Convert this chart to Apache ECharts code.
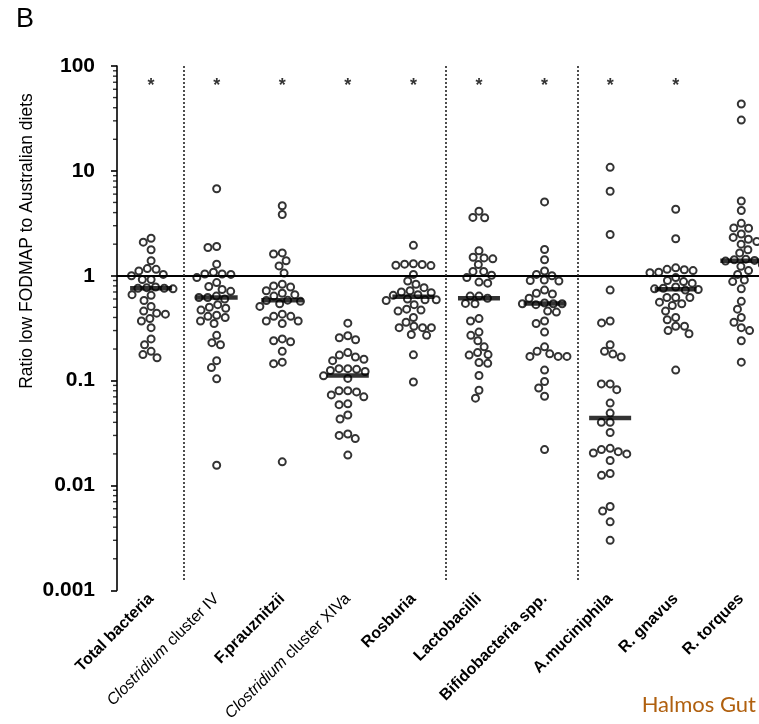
<!DOCTYPE html>
<html>
<head>
<meta charset="utf-8">
<script src="https://cdn.jsdelivr.net/npm/echarts@6/dist/echarts.min.js"></script>
<style>
  html, body { margin: 0; padding: 0; background: #fff; }
  #chart { width: 759px; height: 724px; }
</style>
</head>
<body>
<div id="chart"></div>
<script>
// ---------- data ----------
const categories = [
  'Total bacteria', 'Clostridium cluster IV', 'F.prauznitzii', 'Clostridium cluster XIVa',
  'Rosburia', 'Lactobacilli', 'Bifidobacteria spp.', 'A.muciniphila', 'R. gnavus', 'R. torques'
];
const totalBacteria = [2.28,2.09,1.77,1.39,1.17,1.15,1.11,1.03,1.0,0.92,0.92,0.78,0.77,0.76,0.76,0.75,0.66,0.65,0.58,0.51,0.46,0.44,0.43,0.39,0.37,0.32,0.25,0.22,0.19,0.177,0.165];
const clostridiumIV = [6.76,1.90,1.86,1.29,1.08,1.04,1.04,1.03,0.96,0.86,0.79,0.74,0.71,0.64,0.62,0.62,0.60,0.53,0.50,0.49,0.47,0.42,0.41,0.40,0.37,0.35,0.27,0.23,0.22,0.155,0.133,0.104,0.0156];
const fPrausnitzii = [4.65,3.84,1.65,1.61,1.39,1.24,1.06,0.83,0.80,0.78,0.72,0.68,0.66,0.64,0.585,0.58,0.57,0.54,0.51,0.43,0.41,0.41,0.37,0.37,0.35,0.25,0.24,0.235,0.19,0.15,0.145,0.0168];
const clostridiumXIVa = [0.353,0.268,0.256,0.245,0.185,0.175,0.168,0.16,0.155,0.13,0.13,0.128,0.125,0.122,0.111,0.105,0.08,0.08,0.078,0.073,0.07,0.06,0.059,0.047,0.043,0.031,0.03,0.028,0.0195];
const rosburia = [1.95,1.30,1.29,1.28,1.26,1.25,1.03,0.89,0.83,0.77,0.72,0.70,0.69,0.66,0.65,0.60,0.59,0.59,0.58,0.53,0.48,0.47,0.46,0.40,0.36,0.33,0.32,0.32,0.32,0.275,0.27,0.176,0.097];
const lactobacilli = [4.13,3.6,3.57,1.73,1.5,1.48,1.45,1.28,1.1,1.1,1.01,0.96,0.87,0.85,0.64,0.64,0.61,0.545,0.54,0.39,0.37,0.29,0.27,0.24,0.21,0.185,0.177,0.175,0.149,0.146,0.112,0.081,0.068];
const bifidobacteria = [5.06,1.78,1.42,1.11,1.03,1.0,0.91,0.90,0.89,0.73,0.68,0.67,0.61,0.55,0.54,0.54,0.54,0.53,0.46,0.45,0.37,0.35,0.29,0.21,0.19,0.18,0.17,0.17,0.17,0.126,0.098,0.085,0.071,0.022];
const aMuciniphila = [10.8,6.39,2.47,0.73,0.37,0.355,0.22,0.19,0.179,0.168,0.093,0.093,0.082,0.061,0.049,0.04,0.04,0.032,0.0226,0.022,0.021,0.0204,0.02,0.0173,0.013,0.0125,0.0063,0.0057,0.0045,0.003];
const rGnavus = [4.3,2.25,1.19,1.15,1.14,1.12,1.08,1.07,0.96,0.90,0.88,0.85,0.78,0.76,0.75,0.74,0.73,0.62,0.62,0.62,0.56,0.54,0.52,0.46,0.40,0.38,0.33,0.33,0.30,0.28,0.126];
const rTorques = [43.4,30.5,5.16,4.19,3.16,2.86,2.84,2.5,2.32,2.23,2.12,2.0,1.77,1.65,1.44,1.42,1.40,1.38,1.28,1.23,1.12,1.03,0.91,0.88,0.75,0.57,0.48,0.40,0.36,0.32,0.30,0.24,0.15];
const medians = [0.76, 0.62, 0.585, 0.112, 0.63, 0.61, 0.545, 0.044, 0.745, 1.39];
const significant = [true, true, true, true, true, true, true, true, true, false];
const yTickLabels = ['0.001', '0.01', '0.1', '1', '10', '100'];
const separatorsAfter = [0.5, 4.5, 6.5];
const referenceRatio = 1;

const groups = [totalBacteria, clostridiumIV, fPrausnitzii, clostridiumXIVa, rosburia,
                lactobacilli, bifidobacteria, aMuciniphila, rGnavus, rTorques];

// ---------- layout ----------
const W = 759, H = 724;
const grid = { left: 117, right: 0, top: 66, bottom: 127 };
const xMin = -0.52, xMax = 9.27;
const yMin = 0.001, yMax = 100;
const plotW = W - grid.left - grid.right;
const plotH = H - grid.top - grid.bottom;
const pxPerX = plotW / (xMax - xMin);
const pxPerDecade = plotH / (Math.log10(yMax) - Math.log10(yMin));
const D = 8.8; // dot spacing in px

// beeswarm offsets, computed from the values in pixel space
function swarm(values) {
  const placed = [];
  const offs = new Array(values.length);
  const order = values.map((v, i) => i).sort((a, b) => values[b] - values[a]);
  for (const idx of order) {
    const y = -Math.log10(values[idx]) * pxPerDecade;
    const near = placed.filter(p => Math.abs(p.y - y) < D);
    const cands = [0];
    near.forEach(p => {
      const dx = Math.sqrt(D * D - (p.y - y) * (p.y - y));
      cands.push(p.x - dx, p.x + dx);
    });
    cands.sort((a, b) => Math.abs(a) - Math.abs(b) || a - b);
    let chosen = 0;
    for (const c of cands) {
      if (near.every(p => (c - p.x) * (c - p.x) + (y - p.y) * (y - p.y) >= D * D - 1e-6)) { chosen = c; break; }
    }
    placed.push({ x: chosen, y });
    offs[idx] = chosen / pxPerX;
  }
  return offs;
}

const pointData = [];
groups.forEach((vals, gi) => {
  const offs = swarm(vals);
  vals.forEach((v, i) => pointData.push([gi + offs[i], v]));
});

const minorTicks = [];
for (let e = -3; e < 2; e++) {
  for (let m = 2; m <= 9; m++) minorTicks.push([xMin, m * Math.pow(10, e)]);
}

const FONT = '"Liberation Sans", Arial, sans-serif';

function labelFor(v) {
  const i = Math.round(v);
  const name = categories[i];
  if (name && name.indexOf('Clostridium') === 0) {
    return '{i|Clostridium}{n|' + name.slice('Clostridium'.length) + '}';
  }
  return name || '';
}

const chart = echarts.init(document.getElementById('chart'), null, { renderer: 'canvas' });
chart.setOption({
  animation: false,
  backgroundColor: '#fff',
  grid: { left: grid.left, right: grid.right, top: grid.top, bottom: grid.bottom, containLabel: false },
  xAxis: {
    type: 'value', min: xMin, max: xMax,
    axisLine: { show: false, onZero: false }, axisTick: { show: false }, splitLine: { show: false },
    axisLabel: {
      customValues: categories.map((c, i) => i),
      rotate: 45, margin: 6, color: '#000',
      fontFamily: FONT, fontSize: 16, fontWeight: 'bold',
      formatter: labelFor,
      rich: {
        i: { fontFamily: FONT, fontSize: 16, fontStyle: 'italic', fontWeight: 'normal', color: '#000' },
        n: { fontFamily: FONT, fontSize: 16, fontWeight: 'normal', color: '#000' }
      }
    }
  },
  yAxis: {
    type: 'log', logBase: 10, min: yMin, max: yMax,
    axisLine: { show: true, onZero: false, lineStyle: { color: '#000', width: 1.6 } },
    axisTick: { show: true, inside: false, length: 6, lineStyle: { color: '#000', width: 1.6 } },
    splitLine: { show: false },
    minorTick: { show: false },
    axisLabel: {
      color: '#000', fontFamily: FONT, fontSize: 21, fontWeight: 'bold', margin: 22,
      formatter: v => yTickLabels[Math.round(Math.log10(v)) + 3] || ''
    }
  },
  graphic: [
    { type: 'text', left: 16, top: 6, style: { text: 'B', font: '27px ' + FONT, fill: '#000' } },
    { type: 'text', x: 27, y: 241, rotation: Math.PI / 2,
      style: { text: 'Ratio low FODMAP to Australian diets', font: '17.5px ' + FONT, fill: '#000',
               align: 'center', verticalAlign: 'middle' } },
    { type: 'text', right: 3, bottom: 8,
      style: { text: 'Halmos Gut', font: '22px Lato, "Open Sans", sans-serif', fill: '#B0600F' } }
  ],
  series: [
    {
      type: 'scatter', name: 'minor', data: minorTicks, clip: false, silent: true,
      symbol: 'rect', symbolSize: [4, 1.4], symbolOffset: [-2, 0],
      itemStyle: { color: '#000' }, z: 3
    },
    {
      type: 'scatter', name: 'ratios', data: pointData, clip: false,
      symbol: 'circle', symbolSize: 7,
      itemStyle: { color: 'rgba(255,255,255,0)', borderColor: '#000', borderWidth: 2 },
      z: 4
    },
    {
      type: 'scatter', name: 'median', clip: false,
      data: medians.map((m, i) => [i, m]),
      symbol: 'rect', symbolSize: [42, 4.5],
      itemStyle: { color: '#000' }, z: 5,
      markLine: {
        silent: true, symbol: ['none', 'none'], label: { show: false },
        data: [
          { yAxis: referenceRatio, lineStyle: { color: '#000', width: 1.8, type: 'solid' } }
        ].concat(separatorsAfter.map(x => [
          { coord: [x, yMax], lineStyle: { color: '#222', width: 1.6, type: [2, 2] } },
          { coord: [x, 0.0012] }
        ]))
      }
    },
    {
      type: 'scatter', name: 'stars', symbol: 'circle', symbolSize: 1, silent: true,
      itemStyle: { color: 'rgba(0,0,0,0)' },
      data: significant.map((s, i) => s ? [i, 65] : null).filter(d => d),
      label: { show: true, position: 'inside', formatter: '*', color: '#000',
               fontFamily: FONT, fontSize: 18, fontWeight: 'bold' },
      z: 6
    }
  ]
});
</script>
</body>
</html>
